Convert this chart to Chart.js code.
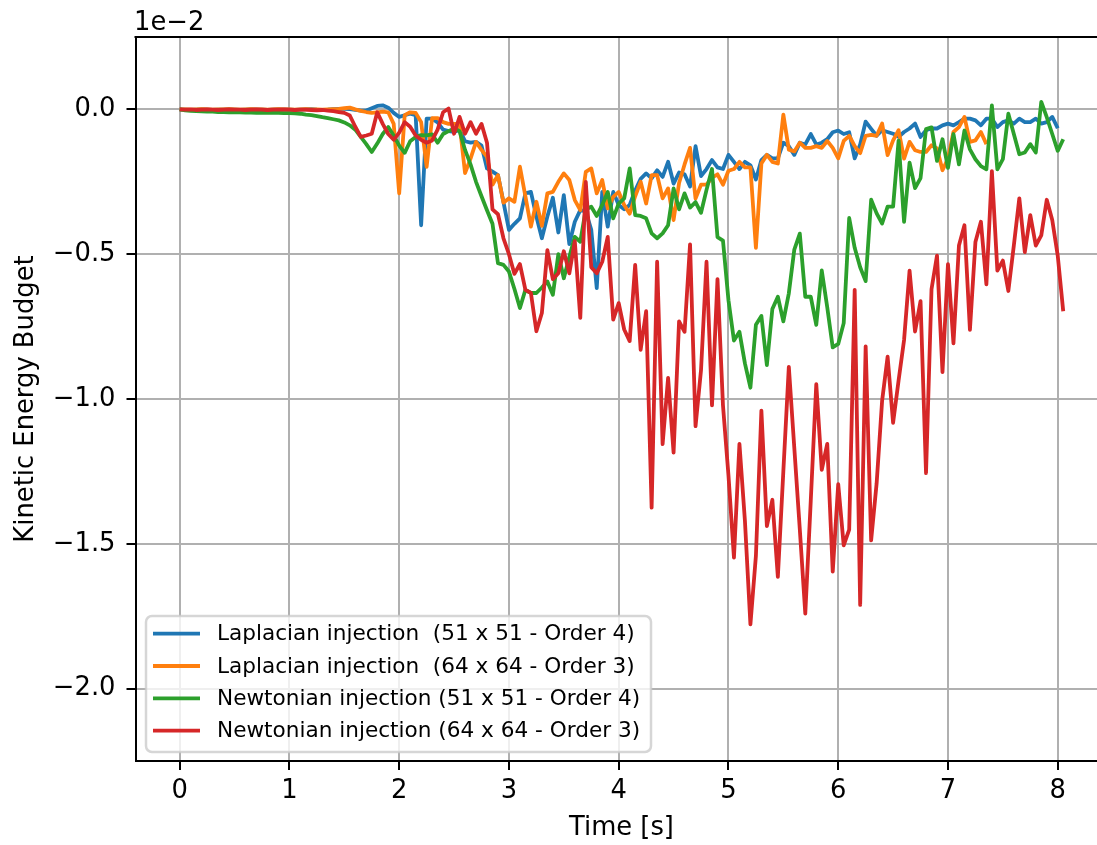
<!DOCTYPE html>
<html>
<head>
<meta charset="utf-8">
<title>Kinetic Energy Budget</title>
<script src="https://cdn.jsdelivr.net/npm/chart.js@4.4.1/dist/chart.umd.min.js"></script>
<style>
    html, body { margin: 0; padding: 0; background: #fff; overflow: hidden; }
    #wrap { width: 1097px; height: 845px; overflow: hidden; }
    canvas { display: block; }
</style>
</head>
<body>
<div id="wrap"><canvas id="chart" width="1110" height="845"></canvas></div>
<script>
// Sample times [s]
var times = [
    0, 0.05, 0.1, 0.15, 0.2, 0.25, 0.3, 0.35, 0.4, 0.45, 0.5, 0.55, 0.6, 0.65, 0.7, 0.75, 0.8, 0.85, 0.9, 0.95,
    1, 1.05, 1.1, 1.15, 1.2, 1.25, 1.3, 1.35, 1.4, 1.45, 1.5, 1.55, 1.6, 1.65, 1.7, 1.75, 1.8, 1.85, 1.9, 1.95,
    2, 2.05, 2.1, 2.15, 2.2, 2.25, 2.3, 2.35, 2.4, 2.45, 2.5, 2.55, 2.6, 2.65, 2.7, 2.75, 2.8, 2.85, 2.9, 2.95,
    3, 3.05, 3.1, 3.15, 3.2, 3.25, 3.3, 3.35, 3.4, 3.45, 3.5, 3.55, 3.6, 3.65, 3.7, 3.75, 3.8, 3.85, 3.9, 3.95,
    4, 4.05, 4.1, 4.15, 4.2, 4.25, 4.3, 4.35, 4.4, 4.45, 4.5, 4.55, 4.6, 4.65, 4.7, 4.75, 4.8, 4.85, 4.9, 4.95,
    5, 5.05, 5.1, 5.15, 5.2, 5.25, 5.3, 5.35, 5.4, 5.45, 5.5, 5.55, 5.6, 5.65, 5.7, 5.75, 5.8, 5.85, 5.9, 5.95,
    6, 6.05, 6.1, 6.15, 6.2, 6.25, 6.3, 6.35, 6.4, 6.45, 6.5, 6.55, 6.6, 6.65, 6.7, 6.75, 6.8, 6.85, 6.9, 6.95,
    7, 7.05, 7.1, 7.15, 7.2, 7.25, 7.3, 7.35, 7.4, 7.45, 7.5, 7.55, 7.6, 7.65, 7.7, 7.75, 7.8, 7.85, 7.9, 7.95,
    8, 8.05
];

// Kinetic energy budget (x 1e-2)
var laplace51 = [
    0, -0.001, -0.002, -0.001, 0, -0.001, -0.002, -0.001, -0.001, 0, -0.001, -0.002, -0.001, 0, -0.001, -0.001, -0.002, -0.001, 0, -0.001,
    -0.001, -0.002, -0.001, 0, 0.001, -0.001, -0.002, -0.001, 0.001, 0.002, 0.002, 0.001, -0.002, -0.004, -0.004, 0.004, 0.012, 0.014, 0.006, -0.012,
    -0.026, -0.02, -0.015, -0.02, -0.40, -0.032, -0.032, -0.045, -0.07, -0.075, -0.078, -0.07, -0.11, -0.115, -0.112, -0.125, -0.204, -0.215, -0.227, -0.32,
    -0.416, -0.395, -0.376, -0.29, -0.285, -0.37, -0.445, -0.37, -0.305, -0.425, -0.296, -0.465, -0.388, -0.348, -0.352, -0.416, -0.617, -0.285, -0.405, -0.285,
    -0.33, -0.345, -0.33, -0.28, -0.24, -0.221, -0.238, -0.21, -0.233, -0.181, -0.256, -0.218, -0.224, -0.266, -0.127, -0.23, -0.206, -0.175, -0.2, -0.206,
    -0.157, -0.181, -0.206, -0.181, -0.193, -0.242, -0.175, -0.157, -0.169, -0.169, -0.115, -0.127, -0.157, -0.115, -0.121, -0.085, -0.121, -0.115, -0.103, -0.079,
    -0.073, -0.085, -0.079, -0.169, -0.121, -0.042, -0.067, -0.091, -0.072, -0.078, -0.084, -0.095, -0.078, -0.066, -0.049, -0.095, -0.072, -0.066, -0.066, -0.055,
    -0.049, -0.055, -0.044, -0.032, -0.032, -0.038, -0.055, -0.032, -0.032, -0.061, -0.044, -0.038, -0.049, -0.032, -0.044, -0.044, -0.032, -0.049, -0.044, -0.026,
    -0.065, null
];
var laplace64 = [
    0, 0, -0.001, 0, 0.001, 0, -0.001, 0, 0, 0.001, 0, -0.001, 0, 0.001, 0, 0, -0.001, 0, 0.001, 0,
    0, -0.001, 0, 0.001, 0, 0, -0.001, 0, 0.001, 0.002, 0.004, 0.006, 0, -0.005, -0.009, -0.012, -0.01, -0.008, -0.01, -0.05,
    -0.29, -0.02, -0.01, -0.012, -0.044, -0.198, -0.03, -0.03, -0.044, -0.05, -0.05, -0.05, -0.22, -0.17, -0.112, -0.14, -0.164, -0.26, -0.227, -0.322,
    -0.307, -0.319, -0.198, -0.30, -0.405, -0.319, -0.402, -0.29, -0.285, -0.25, -0.221, -0.244, -0.313, -0.348, -0.216, -0.204, -0.29, -0.244, -0.342, -0.302,
    -0.285, -0.33, -0.36, -0.30, -0.25, -0.325, -0.227, -0.227, -0.307, -0.273, -0.382, -0.254, -0.19, -0.133, -0.308, -0.26, -0.26, -0.236, -0.224, -0.26,
    -0.212, -0.206, -0.181, -0.2, -0.2, -0.478, -0.187, -0.157, -0.181, -0.187, -0.018, -0.139, -0.145, -0.115, -0.133, -0.133, -0.127, -0.133, -0.109, -0.133,
    -0.169, -0.109, -0.091, -0.127, -0.151, -0.091, -0.088, -0.091, -0.049, -0.158, -0.107, -0.072, -0.17, -0.112, -0.141, -0.147, -0.147, -0.124, -0.135, -0.21,
    -0.17, -0.078, -0.061, -0.026, -0.112, -0.107, -0.078, -0.12, null, null, null, null, null, null, null, null, null, null, null, null,
    null, null
];
var newton51 = [
    0, -0.003, -0.005, -0.006, -0.007, -0.008, -0.008, -0.009, -0.009, -0.01, -0.01, -0.01, -0.011, -0.011, -0.012, -0.011, -0.012, -0.012, -0.012, -0.013,
    -0.013, -0.014, -0.015, -0.018, -0.02, -0.023, -0.027, -0.03, -0.034, -0.038, -0.045, -0.055, -0.07, -0.095, -0.12, -0.147, -0.118, -0.085, -0.061, -0.09,
    -0.125, -0.15, -0.11, -0.095, -0.089, -0.09, -0.086, -0.115, -0.085, -0.075, -0.066, -0.075, -0.14, -0.19, -0.25, -0.30, -0.348, -0.395, -0.531, -0.537,
    -0.56, -0.62, -0.686, -0.623, -0.634, -0.634, -0.615, -0.594, -0.64, -0.50, -0.583, -0.51, -0.44, -0.457, -0.345, -0.336, -0.368, -0.33, -0.285, -0.376,
    -0.325, -0.307, -0.204, -0.365, -0.368, -0.376, -0.428, -0.445, -0.428, -0.40, -0.273, -0.345, -0.29, -0.339, -0.32, -0.357, -0.278, -0.206, -0.441, -0.453,
    -0.659, -0.798, -0.768, -0.877, -0.961, -0.744, -0.713, -0.883, -0.689, -0.647, -0.732, -0.635, -0.484, -0.429, -0.647, -0.647, -0.744, -0.556, -0.683, -0.822,
    -0.81, -0.738, -0.375, -0.478, -0.545, -0.593, -0.312, -0.359, -0.394, -0.336, -0.336, -0.108, -0.388, -0.184, -0.272, -0.237, -0.068, -0.062, -0.178, -0.103,
    -0.202, -0.085, -0.19, -0.073, -0.138, -0.172, -0.196, -0.207, 0.014, -0.207, -0.172, -0.015, -0.085, -0.155, -0.149, -0.12, -0.149, 0.026, -0.027, -0.085,
    -0.143, -0.103
];
var newton64 = [
    0, -0.001, 0, -0.002, -0.001, 0, -0.001, -0.002, -0.001, 0, -0.001, -0.001, -0.002, -0.001, 0, -0.001, -0.002, -0.001, -0.001, 0,
    -0.001, -0.002, -0.001, -0.001, -0.002, -0.003, -0.002, -0.004, -0.006, -0.009, -0.012, -0.021, -0.06, -0.095, -0.09, -0.084, -0.01, -0.05, -0.085, -0.105,
    -0.08, -0.044, -0.06, -0.09, -0.105, -0.115, -0.107, -0.07, -0.01, 0.003, -0.084, -0.026, -0.084, -0.044, -0.084, -0.05, -0.115, -0.345, -0.362, -0.445,
    -0.50, -0.568, -0.534, -0.623, -0.634, -0.766, -0.703, -0.486, -0.586, -0.566, -0.49, -0.566, -0.455, -0.72, -0.25, -0.545, -0.566, -0.526, -0.44, -0.726,
    -0.669, -0.76, -0.8, -0.537, -0.83, -0.697, -1.375, -0.526, -1.156, -0.927, -1.185, -0.732, -0.768, -0.466, -1.094, -0.90, -0.526, -1.022, -0.586, -1.022,
    -1.264, -1.548, -1.155, -1.421, -1.778, -1.542, -1.04, -1.439, -1.348, -1.614, -1.25, -0.889, -1.17, -1.45, -1.741, -1.35, -0.949, -1.245, -1.155, -1.596,
    -1.294, -1.505, -1.451, -0.623, -1.711, -0.818, -1.488, -1.291, -1.006, -0.854, -1.082, -0.936, -0.796, -0.557, -0.767, -0.662, -1.256, -0.621, -0.505, -0.907,
    -0.534, -0.808, -0.47, -0.4, -0.761, -0.458, -0.388, -0.604, -0.213, -0.557, -0.522, -0.627, -0.47, -0.307, -0.493, -0.365, -0.47, -0.435, -0.312, -0.382,
    -0.505, -0.697
];

var seriesLabels = [
    'Laplacian injection  (51 x 51 - Order 4)',
    'Laplacian injection  (64 x 64 - Order 3)',
    'Newtonian injection (51 x 51 - Order 4)',
    'Newtonian injection (64 x 64 - Order 3)'
];
var seriesValues = [laplace51, laplace64, newton51, newton64];
var seriesColors = ['#1f77b4', '#ff7f0e', '#2ca02c', '#d62728'];

var xTickValues = [0, 1, 2, 3, 4, 5, 6, 7, 8];
var xTickLabels = ['0', '1', '2', '3', '4', '5', '6', '7', '8'];
var yTickValues = [0, -0.5, -1, -1.5, -2];
var yTickLabels = ['0.0', '\u22120.5', '\u22121.0', '\u22121.5', '\u22122.0'];

var FONT = '"DejaVu Sans", sans-serif';
var FONT_SIZE = 25.8;
var LINE_W = 3.8;

Chart.defaults.font.family = FONT;
Chart.defaults.color = '#000';

function toPoints(vals) {
    var pts = [];
    for (var i = 0; i < times.length; i++) {
        if (vals[i] !== null && vals[i] !== undefined) {
            pts.push({ x: times[i], y: vals[i] });
        }
    }
    return pts;
}

// matplotlib-like extras: top spine, offset text, legend inside the axes
var extrasPlugin = {
    id: 'extras',
    afterDraw: function(chart) {
        var ctx = chart.ctx;
        var a = chart.chartArea;
        ctx.save();

        ctx.strokeStyle = '#000';
        ctx.lineWidth = 2;
        ctx.beginPath();
        ctx.moveTo(a.left - 1, a.top);
        ctx.lineTo(a.right + 1, a.top);
        ctx.stroke();

        ctx.fillStyle = '#000';
        ctx.font = FONT_SIZE + 'px ' + FONT;
        ctx.textAlign = 'left';
        ctx.textBaseline = 'alphabetic';
        ctx.fillText('1e\u22122', a.left - 1.5, 29.5);

        // legend box
        var bx = 146, by = 616, bw = 505, bh = 136, r = 6;
        ctx.beginPath();
        ctx.moveTo(bx + r, by);
        ctx.lineTo(bx + bw - r, by);
        ctx.arcTo(bx + bw, by, bx + bw, by + r, r);
        ctx.lineTo(bx + bw, by + bh - r);
        ctx.arcTo(bx + bw, by + bh, bx + bw - r, by + bh, r);
        ctx.lineTo(bx + r, by + bh);
        ctx.arcTo(bx, by + bh, bx, by + bh - r, r);
        ctx.lineTo(bx, by + r);
        ctx.arcTo(bx, by, bx + r, by, r);
        ctx.closePath();
        ctx.fillStyle = 'rgba(255,255,255,0.8)';
        ctx.fill();
        ctx.strokeStyle = 'rgba(204,204,204,0.8)';
        ctx.lineWidth = 2.5;
        ctx.stroke();

        ctx.font = '21.6px ' + FONT;
        ctx.textBaseline = 'middle';
        for (var i = 0; i < seriesLabels.length; i++) {
            var y = 633.7 + i * 32.3;
            ctx.strokeStyle = seriesColors[i];
            ctx.lineWidth = LINE_W;
            ctx.beginPath();
            ctx.moveTo(153, y);
            ctx.lineTo(200, y);
            ctx.stroke();
            ctx.fillStyle = '#000';
            ctx.fillText(seriesLabels[i], 217, y + 1);
        }
        ctx.restore();
    }
};

var datasets = seriesValues.map(function(vals, i) {
    return {
        label: seriesLabels[i],
        data: toPoints(vals),
        borderColor: seriesColors[i],
        backgroundColor: seriesColors[i],
        borderWidth: LINE_W,
        pointRadius: 0,
        tension: 0,
        fill: false,
        borderJoinStyle: 'round',
        order: seriesValues.length - i
    };
});

var chart = new Chart(document.getElementById('chart'), {
    type: 'line',
    data: { datasets: datasets },
    options: {
        responsive: false,
        animation: false,
        devicePixelRatio: 1,
        layout: { padding: { left: 0, top: 37, right: 2.6, bottom: 0 } },
        plugins: {
            legend: { display: false },
            tooltip: { enabled: false }
        },
        scales: {
            x: {
                type: 'linear',
                min: -0.4025,
                max: 8.4525,
                afterFit: function(s) { s.height = 84; },
                afterBuildTicks: function(s) {
                    s.ticks = xTickValues.map(function(v) { return { value: v }; });
                },
                ticks: {
                    autoSkip: false,
                    maxRotation: 0,
                    padding: 6,
                    font: { size: FONT_SIZE },
                    callback: function(value) {
                        var i = xTickValues.indexOf(value);
                        return i >= 0 ? xTickLabels[i] : '';
                    }
                },
                grid: { color: '#b0b0b0', lineWidth: 2, tickColor: '#000', tickLength: 9, tickWidth: 2 },
                border: { color: '#000', width: 2 },
                title: { display: true, text: 'Time [s]', font: { size: FONT_SIZE }, padding: { top: 0, bottom: 1 } }
            },
            y: {
                type: 'linear',
                min: -2.25,
                max: 0.25,
                afterFit: function(s) { s.width = 135.5; },
                afterBuildTicks: function(s) {
                    s.ticks = yTickValues.map(function(v) { return { value: v }; });
                },
                ticks: {
                    autoSkip: false,
                    padding: 11,
                    font: { size: FONT_SIZE },
                    callback: function(value) {
                        var i = yTickValues.indexOf(value);
                        return i >= 0 ? yTickLabels[i] : '';
                    }
                },
                grid: { color: '#b0b0b0', lineWidth: 2, tickColor: '#000', tickLength: 9, tickWidth: 2 },
                border: { color: '#000', width: 2 },
                title: { display: true, text: 'Kinetic Energy Budget', font: { size: FONT_SIZE }, padding: { top: 11, bottom: 0 } }
            }
        }
    },
    plugins: [extrasPlugin]
});
</script>
</body>
</html>
